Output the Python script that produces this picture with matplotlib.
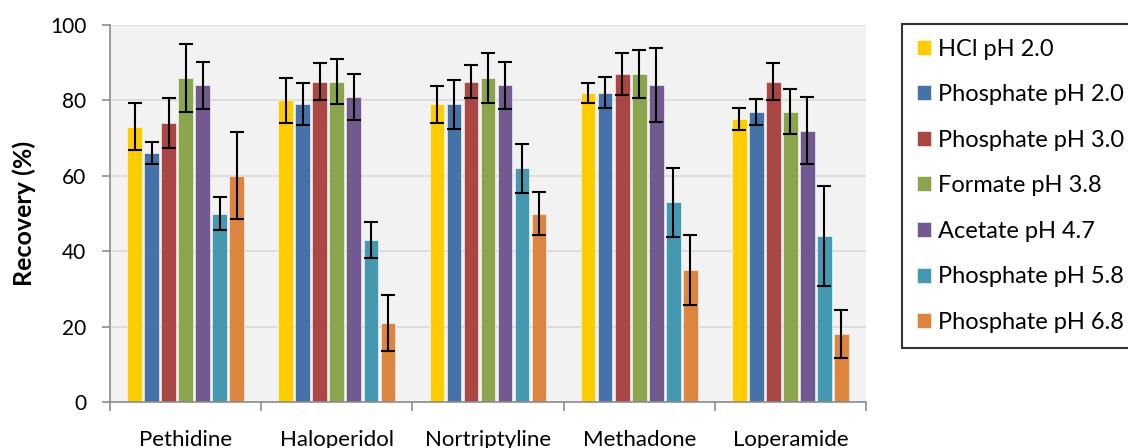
import matplotlib
matplotlib.use("Agg")
import matplotlib.pyplot as plt
import numpy as np

categories = ["Pethidine", "Haloperidol", "Nortriptyline", "Methadone", "Loperamide"]
series = ["HCl pH 2.0", "Phosphate pH 2.0", "Phosphate pH 3.0", "Formate pH 3.8",
          "Acetate pH 4.7", "Phosphate pH 5.8", "Phosphate pH 6.8"]
colors = ["#FFCC00", "#4573A9", "#AA4644", "#8BA54E", "#72598F", "#4499B0", "#DD843F"]

hcl_20 = [73, 80, 79, 82, 75]
phos_20 = [66, 79, 79, 82, 77]
phos_30 = [74, 85, 85, 87, 85]
form_38 = [86, 85, 86, 87, 77]
acet_47 = [84, 81, 84, 84, 72]
phos_58 = [50, 43, 62, 53, 44]
phos_68 = [60, 21, 50, 35, 18]

err_hcl_20 = [6.2, 6.0, 4.9, 2.6, 2.9]
err_phos_20 = [3.0, 5.5, 6.5, 4.1, 3.5]
err_phos_30 = [6.6, 4.8, 4.4, 5.5, 5.0]
err_form_38 = [9.0, 6.0, 6.7, 6.4, 5.9]
err_acet_47 = [6.3, 6.1, 6.3, 9.8, 8.8]
err_phos_58 = [4.5, 4.7, 6.5, 9.2, 13.2]
err_phos_68 = [11.5, 7.4, 5.7, 9.3, 6.4]

values = [hcl_20, phos_20, phos_30, form_38, acet_47, phos_58, phos_68]
errors = [err_hcl_20, err_phos_20, err_phos_30, err_form_38, err_acet_47, err_phos_58, err_phos_68]

plt.rcParams['font.family'] = ['Lato', 'DejaVu Sans']

fig = plt.figure(figsize=(11.28, 4.48), dpi=100)
ax = fig.add_axes([110/1128, 1 - 402/448, (866-110)/1128, (402-25)/448])
ax.set_facecolor("#F2F2F2")

x = np.arange(len(categories))
step = 0.1126
width = 0.097
handles = []
for i, (vals, errs, c, name) in enumerate(zip(values, errors, colors, series)):
    pos = x + (i - 3) * step
    b = ax.bar(pos, vals, width=width, color=c, edgecolor="white", linewidth=0.4, label=name, zorder=2)
    ax.errorbar(pos, vals, yerr=errs, fmt="none", ecolor="black", elinewidth=1.5,
                capsize=4.8, capthick=1.5, zorder=3)
    handles.append(b)

ax.set_ylim(0, 100)
ax.set_xlim(-0.5, len(categories) - 0.5)
ax.set_yticks(np.arange(0, 101, 20))
ax.yaxis.grid(True, color="#D9D9D9", linewidth=1.2, zorder=0)
ax.set_axisbelow(True)
for s in ["top", "right"]:
    ax.spines[s].set_visible(False)
for s in ["left", "bottom"]:
    ax.spines[s].set_color("#8C8C8C")
    ax.spines[s].set_linewidth(1.2)
ax.tick_params(axis="y", labelsize=15, length=6, color="#8C8C8C", width=1.2, pad=11)
ax.set_xticks(np.arange(-0.5, len(categories), 1.0))
ax.set_xticklabels([])
ax.tick_params(axis="x", which="major", length=6.5, color="#8C8C8C", width=1.2)
ax.set_xticks(x, minor=True)
ax.set_xticklabels(categories, minor=True, fontsize=16)
ax.tick_params(axis="x", which="minor", length=0, pad=20)
ax.set_ylabel("Recovery (%)", fontsize=18, fontweight="bold", labelpad=10)

leg = fig.legend(handles=handles, labels=series, loc="upper left",
                 bbox_to_anchor=(902/1128, 1 - 24/448), fontsize=17,
                 frameon=True, fancybox=False, edgecolor="black",
                 handlelength=0.6, handleheight=0.6, handletextpad=0.3,
                 labelspacing=1.04, borderpad=0.62, borderaxespad=0)
leg.get_frame().set_linewidth(1.5)

fig.savefig("out.png", dpi=100)
